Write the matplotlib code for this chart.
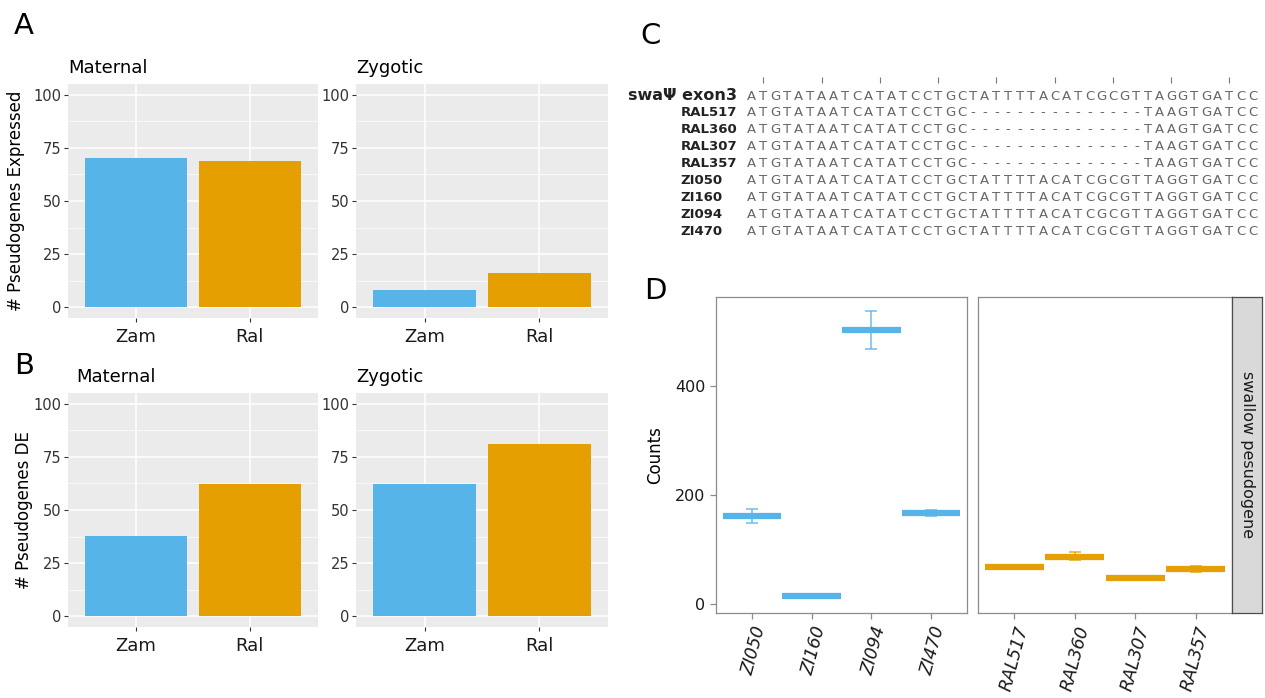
import matplotlib.pyplot as plt
import numpy as np

plt.rcParams['font.family'] = 'DejaVu Sans'

# counts of pseudogenes per population
pops = ['Zam', 'Ral']
expr_maternal = [70, 69]
expr_zygotic = [8, 16]
de_maternal = [38, 62]
de_zygotic = [62, 81]
pop_colors = ['#56B4E9', '#E69F00']

# alignment rows
seq_names = ['swaΨ exon3', 'RAL517', 'RAL360', 'RAL307', 'RAL357', 'ZI050', 'ZI160', 'ZI094', 'ZI470']
ref_seq = 'ATGTATAATCATATCCTGCTATTTTACATCGCGTTAGGTGATCC'
ral_seq = 'ATGTATAATCATATCCTGC---------------TAAGTGATCC'
seqs = [ref_seq, ral_seq, ral_seq, ral_seq, ral_seq, ref_seq, ref_seq, ref_seq, ref_seq]

# swallow pseudogene counts
zi_names = ['ZI050', 'ZI160', 'ZI094', 'ZI470']
zi_mean = [162, 14, 503, 167]
zi_lo = [149, 14, 468, 162]
zi_hi = [174, 14, 537, 172]
ral_names = ['RAL517', 'RAL360', 'RAL307', 'RAL357']
ral_mean = [67, 87, 47, 64]
ral_lo = [67, 80, 45, 58]
ral_hi = [67, 95, 49, 70]

W, H = 1265, 698
fig = plt.figure(figsize=(W / 100, H / 100), dpi=100)


def px_axes(x0, y0, x1, y1):
    return fig.add_axes([x0 / W, 1 - y1 / H, (x1 - x0) / W, (y1 - y0) / H])


def gg_bar(ax, vals, title, ylabel=None, title_x=0.0, ylabel_x=None):
    ax.set_facecolor('#EBEBEB')
    for s in ax.spines.values():
        s.set_visible(False)
    x = np.arange(1, len(pops) + 1)
    ax.bar(x, vals, width=0.9, color=pop_colors, zorder=3)
    ax.set_xlim(0.4, 2.6)
    ax.set_ylim(-5, 105)
    ax.set_xticks(x)
    ax.set_xticklabels(pops, fontsize=13, color='#1A1A1A')
    ax.set_yticks([0, 25, 50, 75, 100])
    ax.set_yticks([12.5, 37.5, 62.5, 87.5], minor=True)
    ax.tick_params(axis='y', labelsize=10.5, labelcolor='#333333', color='#333333', length=3, pad=2)
    ax.tick_params(axis='x', color='#333333', length=3, pad=4)
    ax.tick_params(which='minor', length=0)
    ax.grid(True, which='major', color='white', lw=1.1, zorder=0)
    ax.grid(True, which='minor', axis='y', color='white', lw=0.5, zorder=0)
    ax.set_axisbelow(True)
    ax.text(title_x, 1.03, title, fontsize=13, ha='left', va='bottom', transform=ax.transAxes)
    if ylabel:
        ax.set_ylabel(ylabel, fontsize=12)
        if ylabel_x is not None:
            ax.yaxis.set_label_coords(ylabel_x, 0.5)


gg_bar(px_axes(68, 84, 318, 318), expr_maternal, 'Maternal', '# Pseudogenes Expressed', ylabel_x=-0.17)
gg_bar(px_axes(356, 84, 608, 318), expr_zygotic, 'Zygotic')
gg_bar(px_axes(68, 393, 318, 627), de_maternal, 'Maternal', '# Pseudogenes DE',
       title_x=0.035, ylabel_x=-0.14)
gg_bar(px_axes(356, 393, 608, 627), de_zygotic, 'Zygotic')

# sequence alignment drawn in pixel space
axc = fig.add_axes([0, 0, 1, 1], zorder=-1)
axc.set_xlim(0, W)
axc.set_ylim(H, 0)
axc.axis('off')
cw = 11.65
x_seq = 746
row_y = 96 + 16.9 * np.arange(len(seq_names))
for i, (name, s) in enumerate(zip(seq_names, seqs)):
    y = row_y[i]
    if name.startswith('ZI'):
        axc.text(680, y, name, ha='left', va='center', fontsize=9.5, fontweight='bold', color='#222222')
    else:
        axc.text(737, y, name, ha='right', va='center', fontsize=9.5 if i else 11.5,
                 fontweight='bold', color='#222222')
    for j, ch in enumerate(s):
        axc.text(x_seq + (j + 0.5) * cw, y, ch, ha='center', va='center', fontsize=9.5, color='#666666')
ticks = x_seq + (np.arange(1, len(ref_seq), 5) + 0.5) * cw
axc.vlines(ticks, 77, 83, color='#777777', lw=0.8)

# swallow pseudogene counts, two facets
ylim = (-16.5, 563)


def facet(ax, names, mean, lo, hi, color):
    x = np.arange(1, len(names) + 1)
    ax.errorbar(x, mean, yerr=[np.subtract(mean, lo), np.subtract(hi, mean)], fmt='none',
                ecolor=color, alpha=0.8, elinewidth=1.2, capsize=4, capthick=1.2, zorder=2)
    ax.hlines(mean, x - 0.49, x + 0.49, color=color, lw=4.5, zorder=3)
    ax.set_xlim(0.4, 4.6)
    ax.set_ylim(*ylim)
    ax.set_xticks(x)
    ax.set_xticklabels(names, rotation=75, ha='right', va='top', fontsize=12.5,
                       style='italic', color='#1A1A1A', rotation_mode='anchor')
    for s in ax.spines.values():
        s.set_color('#8C8C8C')
        s.set_linewidth(0.9)
    ax.tick_params(color='#8C8C8C', length=4, width=0.9)
    ax.tick_params(axis='x', pad=4)


axl = px_axes(716, 297, 967, 613)
facet(axl, zi_names, zi_mean, zi_lo, zi_hi, '#56B4E9')
axl.set_yticks([0, 200, 400])
axl.tick_params(axis='y', labelsize=11.5, labelcolor='#1A1A1A')
axl.set_ylabel('Counts', fontsize=12, labelpad=8)

axr = px_axes(978, 297, 1232, 613)
facet(axr, ral_names, ral_mean, ral_lo, ral_hi, '#E69F00')
axr.set_yticks([])

axs = px_axes(1232, 297, 1262, 613)
axs.set_facecolor('#D9D9D9')
axs.set_xticks([])
axs.set_yticks([])
for s in axs.spines.values():
    s.set_color('#4D4D4D')
    s.set_linewidth(0.9)
axs.text(0.5, 0.5, 'swallow pesudogene', rotation=270, ha='center', va='center',
         fontsize=11.5, color='#1A1A1A', transform=axs.transAxes)

# panel letters
for lab, x, y in [('A', 14, 26), ('B', 14, 366), ('C', 640, 36), ('D', 644, 291)]:
    fig.text(x / W, 1 - y / H, lab, fontsize=21, ha='left', va='center')

fig.savefig('out.png', dpi=100)
